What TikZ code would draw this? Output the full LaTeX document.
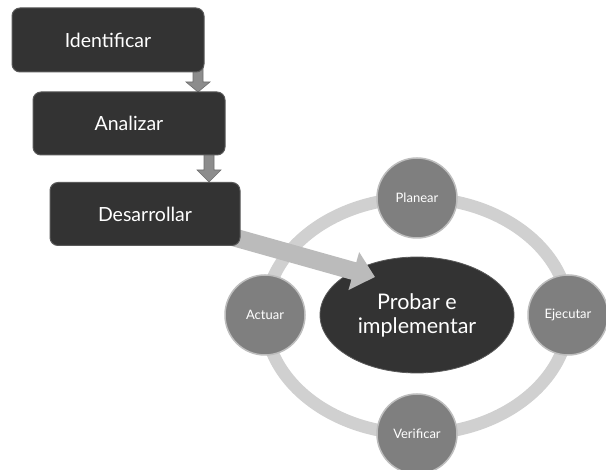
\documentclass[tikz,border=0pt]{standalone}
\usepackage{fontspec}
\setmainfont{Lato}
\usetikzlibrary{arrows.meta,calc,shapes.geometric}
\definecolor{boxdark}{HTML}{333333}
\definecolor{boxedge}{HTML}{5A5A5A}
\definecolor{circfill}{HTML}{7F7F7F}
\definecolor{circedge}{HTML}{BDBDBD}
\definecolor{ringgray}{HTML}{D0D0D0}
\definecolor{bigarrow}{HTML}{BBBBBB}
\definecolor{smallarrow}{HTML}{8C8C8C}
\definecolor{smallarrowedge}{HTML}{6E6E6E}
\tikzset{
  stepbox/.style={draw=boxedge, line width=1pt, fill=boxdark, rounded corners=8pt,
    minimum width=192pt, minimum height=64pt, text=white, font=\fontsize{19.5}{22}\selectfont},
  phase/.style={circle, draw=circedge, line width=1.5pt, fill=circfill, minimum size=80pt,
    inner sep=0pt, text=white, font=\fontsize{13}{15}\selectfont},
  core/.style={ellipse, fill=boxdark, draw=boxedge, line width=0.8pt, minimum width=194pt,
    minimum height=116pt, inner sep=0pt, text=white, align=center,
    font=\fontsize{21.5}{24}\selectfont},
  downarrow/.style={fill=smallarrow, draw=smallarrowedge, line width=0.6pt}
}
\begin{document}
\begin{tikzpicture}[x=1pt,y=-1pt]
\useasboundingbox (0,0) rectangle (606,470);
\fill[white] (0,0) rectangle (606,470);

% ring
\draw[ringgray, line width=12.5pt] (417,316) ellipse [x radius=152pt, y radius=118pt];

% phases
\node[phase] (plan) at (417,198) {Planear};
\node[phase] (act) at (265,315) {Actuar};
\node[phase] (eje) at (568,315) {Ejecutar};
\node[phase] (ver) at (417,434) {Verificar};

% core
\node[core] (core) at (417,315) {Probar e\\implementar};

% small arrows (behind boxes)
\coordinate (a1) at (198,58);
\draw[downarrow] ($(a1)+(-5,0)$) -- ($(a1)+(5,0)$) -- ($(a1)+(5,24)$) -- ($(a1)+(12,24)$)
  -- ($(a1)+(0,34)$) -- ($(a1)+(-12,24)$) -- ($(a1)+(-5,24)$) -- cycle;
\coordinate (a2) at (209,148);
\draw[downarrow] ($(a2)+(-5,0)$) -- ($(a2)+(5,0)$) -- ($(a2)+(5,22)$) -- ($(a2)+(12,22)$)
  -- ($(a2)+(0,34)$) -- ($(a2)+(-12,22)$) -- ($(a2)+(-5,22)$) -- cycle;

% big arrow start (behind box 3)
\coordinate (bstart) at (222,234);
\coordinate (btip) at (375,277);
\draw[bigarrow, line width=18pt, -{Triangle[width=38pt,length=22pt]}] (bstart) -- (btip);

% boxes
\node[stepbox] (ident) at (108,40) {Identificar};
\node[stepbox, minimum height=63pt] (anal) at (129,123.5) {Analizar};
\node[stepbox, minimum width=190pt, minimum height=63pt] (desa) at (145,214) {Desarrollar};

\end{tikzpicture}
\end{document}
